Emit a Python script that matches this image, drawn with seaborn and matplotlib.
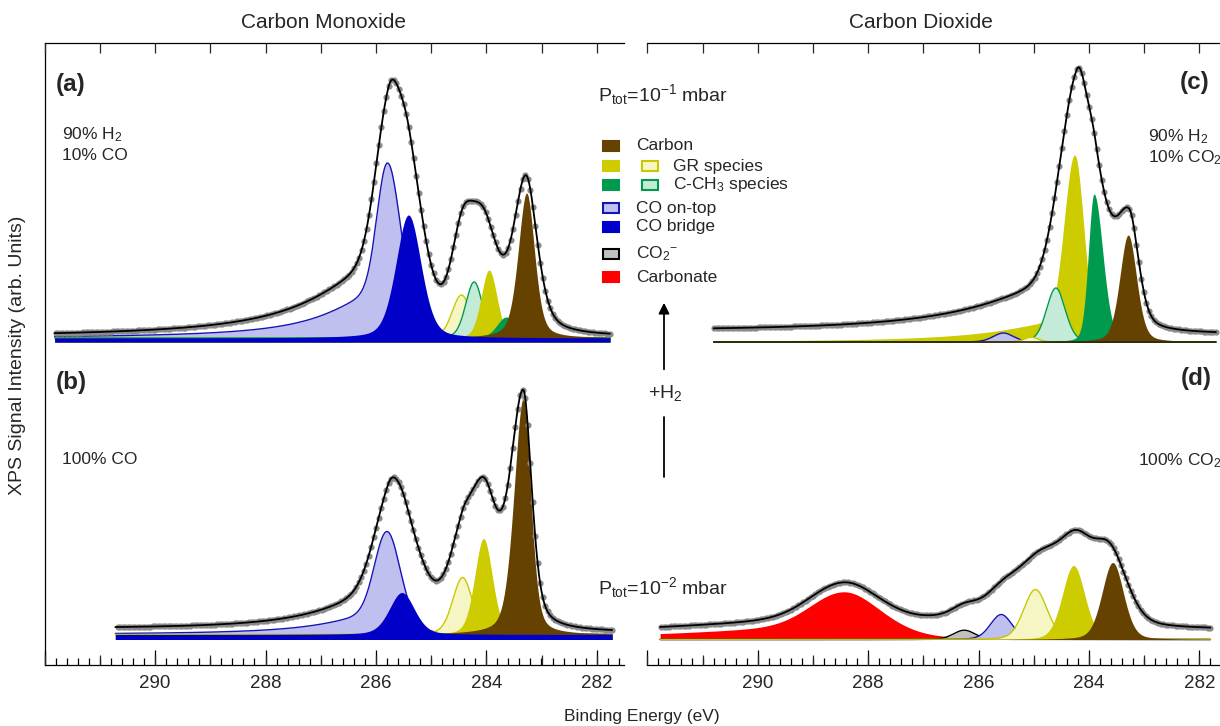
import numpy as np
import matplotlib
matplotlib.use("Agg")
import matplotlib.pyplot as plt
from matplotlib.ticker import MultipleLocator, FuncFormatter, NullLocator
from matplotlib.patches import Rectangle, FancyArrowPatch
from matplotlib.lines import Line2D
import seaborn as sns

# C 1s spectra. Heights are in plot units (0..622 = frame height).
# peak rows: (centre eV, height, hwhm high-BE side, hwhm low-BE side, Lorentz fraction, Lorentz hwhm high-BE side)

# (a) 90% H2 / 10% CO, 1e-1 mbar
a_range = (291.82, 281.76)
a_base = 323
a_band = 4
a_species = ["CO on-top", "GR light", "C-CH3 light", "GR", "C-CH3", "Carbon", "CO bridge"]
a_peaks = [
    (285.79, 175, 0.22, 0.30, 0.28, 1.10),
    (284.45, 43, 0.20, 0.20, 0.20, 0.20),
    (284.22, 56, 0.18, 0.18, 0.20, 0.18),
    (283.95, 68, 0.17, 0.17, 0.20, 0.17),
    (283.64, 21, 0.20, 0.20, 0.20, 0.20),
    (283.27, 145, 0.18, 0.17, 0.40, 0.18),
    (285.41, 123, 0.27, 0.27, 0.30, 0.27),
]
a_fit = [
    (285.78, 202, 0.28, 0.28, 0.35, 1.40),
    (285.40, 143, 0.28, 0.33, 0.35, 0.28),
    (284.44, 82, 0.24, 0.24, 0.30, 0.24),
    (284.05, 100, 0.30, 0.30, 0.30, 0.30),
    (283.28, 154, 0.27, 0.24, 0.50, 0.27),
]
a_bg = (5, 5)  # low-BE end, high-BE end

# (b) 100% CO, 1e-2 mbar
b_range = (290.72, 281.72)
b_base = 25.5
b_band = 5
b_species = ["CO on-top", "GR light", "GR", "Carbon", "CO bridge"]
b_peaks = [
    (285.80, 103, 0.26, 0.30, 0.22, 1.10),
    (284.43, 57, 0.21, 0.21, 0.25, 0.21),
    (284.05, 96, 0.19, 0.19, 0.25, 0.19),
    (283.33, 236, 0.20, 0.16, 0.35, 0.20),
    (285.53, 42, 0.27, 0.27, 0.30, 0.27),
]
b_fit = [
    (285.78, 108, 0.33, 0.28, 0.35, 1.20),
    (285.45, 80, 0.30, 0.40, 0.35, 0.30),
    (284.45, 66, 0.30, 0.22, 0.30, 0.30),
    (284.05, 127, 0.30, 0.28, 0.30, 0.30),
    (283.33, 234, 0.28, 0.18, 0.45, 0.28),
]
b_bg = (7, 10)

# (c) 90% H2 / 10% CO2, 1e-1 mbar
c_range = (290.80, 281.70)
c_base = 323
c_band = 0
c_species = ["GR", "C-CH3 light", "C-CH3", "Carbon", "CO on-top", "GR light", "CO2-"]
c_peaks = [
    (284.26, 187, 0.22, 0.20, 0.12, 1.40),
    (284.60, 54, 0.20, 0.20, 0.20, 0.20),
    (283.91, 148, 0.12, 0.19, 0.20, 0.12),
    (283.29, 107, 0.18, 0.18, 0.30, 0.18),
    (285.55, 9, 0.22, 0.22, 0.20, 0.22),
    (285.05, 5, 0.15, 0.15, 0.20, 0.15),
    (286.20, 0, 0.25, 0.25, 0.20, 0.25),
]
c_fit = [
    (284.22, 234, 0.30, 0.24, 0.22, 1.80),
    (284.62, 30, 0.25, 0.25, 0.30, 0.25),
    (283.88, 116, 0.20, 0.30, 0.30, 0.20),
    (283.27, 110, 0.30, 0.20, 0.40, 0.30),
]
c_bg = (8, 10)

# (d) 100% CO2, 1e-2 mbar
d_range = (291.77, 281.80)
d_base = 25.5
d_band = 0
d_species = ["Carbonate", "CO2-", "CO on-top", "GR light", "GR", "Carbon"]
d_peaks = [
    (288.44, 47.7, 0.70, 0.80, 0.30, 2.80),
    (286.26, 9.3, 0.23, 0.23, 0.20, 0.23),
    (285.59, 25, 0.23, 0.23, 0.20, 0.23),
    (284.97, 50, 0.25, 0.25, 0.20, 0.25),
    (284.28, 74, 0.24, 0.24, 0.20, 0.24),
    (283.57, 77, 0.23, 0.23, 0.25, 0.23),
]
d_fit = [
    (288.44, 47.7, 0.70, 0.80, 0.30, 2.80),
    (286.26, 7, 0.25, 0.25, 0.20, 0.25),
    (285.40, 24, 1.30, 1.40, 0.50, 1.30),
    (285.55, 16, 0.35, 0.35, 0.20, 0.35),
    (284.85, 50, 0.45, 0.45, 0.20, 0.45),
    (284.22, 62, 0.35, 0.35, 0.20, 0.35),
    (283.62, 68, 0.35, 0.36, 0.20, 0.35),
]
d_bg = (9, 6)

# species colours: (fill, outline)
colours = {
    "Carbon": ("#654200", None),
    "GR": ("#cccc00", None),
    "GR light": ("#f6f6c4", "#c8c800"),
    "C-CH3": ("#009a4e", None),
    "C-CH3 light": ("#c4ebd7", "#009a4e"),
    "CO on-top": ("#c0c0f0", "#1515b5"),
    "CO bridge": ("#0000c8", None),
    "CO2-": ("#c0c0c0", "#000000"),
    "Carbonate": ("#ff0000", None),
}

legend_rows = [
    ("Carbon", ["Carbon"]),
    ("GR species", ["GR", "GR light"]),
    ("C-CH$_\\mathregular{3}$ species", ["C-CH3", "C-CH3 light"]),
    ("CO on-top", ["CO on-top"]),
    ("CO bridge", ["CO bridge"]),
    ("CO$_\\mathregular{2}$$^\\mathregular{-}$", ["CO2-"]),
    ("Carbonate", ["Carbonate"]),
]
legend_y = [146, 166, 185, 208, 227, 254, 277]


def lineshape(e, centre, height, hw_hi, hw_lo, lfrac, tail_hi):
    d = e - centre
    hi = d > 0
    hw = np.where(hi, hw_hi, hw_lo)
    gam = np.where(hi, tail_hi, hw_lo)
    return height * ((1 - lfrac) * np.exp(-np.log(2) * (d / hw) ** 2) + lfrac / (1 + (d / gam) ** 2))


def draw_spectrum(ax, e_range, base, band, species, peaks, fit, bg):
    e = np.linspace(e_range[1], e_range[0], 1500)
    for k, (name, p) in enumerate(zip(species, peaks)):
        face, edge = colours[name]
        top = base + band + lineshape(e, *p)
        ax.fill_between(e, base, top, color=face, lw=0, zorder=2 + k)
        if edge:
            ax.plot(e, top, color=edge, lw=1.0, zorder=2 + k)
    slope = (bg[1] - bg[0]) / (e_range[0] - e_range[1])

    def envelope(x):
        y = base + bg[0] + slope * (x - e_range[1])
        for p in fit:
            y = y + lineshape(x, *p)
        return y

    ed = np.arange(e_range[1], e_range[0], 0.045)
    sns.scatterplot(x=ed, y=envelope(ed), ax=ax, color="#8a8a8a", s=20, linewidth=0, zorder=20)
    sns.lineplot(x=e, y=envelope(e), ax=ax, color="black", lw=1.3, zorder=21, estimator=None)


def style_axis(ax):
    ax.set_xlim(292.0, 281.5)
    ax.set_ylim(0, 622)
    ax.set_yticks([])
    ax.set_xlabel("")
    ax.set_ylabel("")
    ax.xaxis.set_major_locator(MultipleLocator(2))
    ax.xaxis.set_minor_locator(MultipleLocator(0.2))
    ax.xaxis.set_major_formatter(FuncFormatter(lambda v, p: "" if v > 291 else f"{v:.0f}"))
    ax.tick_params(axis="x", which="both", direction="in", top=True, bottom=True,
                   width=0.9, color="black", labelsize=13.5, pad=7)
    ax.tick_params(axis="x", which="major", length=10.5)
    ax.tick_params(axis="x", which="minor", length=5)
    # emphasised tick on odd eV
    mid = ax.twiny()
    mid.set_xlim(ax.get_xlim())
    mid.xaxis.set_major_locator(MultipleLocator(1))
    mid.xaxis.set_minor_locator(NullLocator())
    mid.tick_params(axis="x", which="major", direction="in", top=True, bottom=True,
                    length=7.5, width=0.9, labeltop=False, labelbottom=False)
    for s in mid.spines.values():
        s.set_visible(False)
    for s in ax.spines.values():
        s.set_linewidth(0.9)
        s.set_color("black")


sns.set_theme(style="ticks")
plt.rcParams["font.family"] = ["Liberation Sans", "DejaVu Sans"]
plt.rcParams["mathtext.fontset"] = "custom"
plt.rcParams["mathtext.rm"] = "Liberation Sans"
plt.rcParams["mathtext.it"] = "Liberation Sans:italic"
plt.rcParams["mathtext.bf"] = "Liberation Sans:bold"

W, H = 1220, 726
fig = plt.figure(figsize=(W / 100, H / 100), dpi=100)


def fx(px):
    return px / W


def fy(py):
    return 1 - py / H


ax_l = fig.add_axes([fx(44.7), fy(665), 579.6 / W, 622 / H])
ax_r = fig.add_axes([fx(647.4), fy(665), 579.6 / W, 622 / H])

draw_spectrum(ax_l, a_range, a_base, a_band, a_species, a_peaks, a_fit, a_bg)
draw_spectrum(ax_l, b_range, b_base, b_band, b_species, b_peaks, b_fit, b_bg)
draw_spectrum(ax_r, c_range, c_base, c_band, c_species, c_peaks, c_fit, c_bg)
draw_spectrum(ax_r, d_range, d_base, d_band, d_species, d_peaks, d_fit, d_bg)

style_axis(ax_l)
style_axis(ax_r)
ax_l.spines["right"].set_visible(False)
ax_r.spines["right"].set_visible(False)
ax_r.spines["left"].set_visible(False)

# titles and labels
fig.text(fx(324), fy(23), "Carbon Monoxide", ha="center", va="center", fontsize=15)
fig.text(fx(921), fy(23), "Carbon Dioxide", ha="center", va="center", fontsize=15)
fig.text(fx(642), fy(717), "Binding Energy (eV)", ha="center", va="center", fontsize=12.5)
fig.text(fx(18), fy(355), "XPS Signal Intensity (arb. Units)", ha="center", va="center",
         rotation=90, fontsize=14)

for lab, x, y in [("(a)", 56, 84), ("(b)", 56, 383), ("(c)", 1180, 83), ("(d)", 1181, 379)]:
    fig.text(fx(x), fy(y), lab, ha="left", va="center", fontsize=17.5, fontweight="bold")

fig.text(fx(62), fy(135), "90% H$_\\mathregular{2}$", ha="left", va="center", fontsize=12.5)
fig.text(fx(62), fy(155), "10% CO", ha="left", va="center", fontsize=12.5)
fig.text(fx(62), fy(460), "100% CO", ha="left", va="center", fontsize=12.5)
fig.text(fx(1148), fy(137), "90% H$_\\mathregular{2}$", ha="left", va="center", fontsize=12.5)
fig.text(fx(1148), fy(158), "10% CO$_\\mathregular{2}$", ha="left", va="center", fontsize=12.5)
fig.text(fx(1138), fy(461), "100% CO$_\\mathregular{2}$", ha="left", va="center", fontsize=12.5)

fig.text(fx(598), fy(95), "P$_\\mathregular{tot}$=10$^\\mathregular{-1}$ mbar", ha="left", va="center", fontsize=14)
fig.text(fx(598), fy(588), "P$_\\mathregular{tot}$=10$^\\mathregular{-2}$ mbar", ha="left", va="center", fontsize=14)

# +H2 arrow
fig.add_artist(FancyArrowPatch(posA=(fx(664), fy(372)), posB=(fx(664), fy(300)),
                               transform=fig.transFigure, arrowstyle="-|>", mutation_scale=16,
                               lw=1.3, color="black"))
fig.add_artist(Line2D([fx(664), fx(664)], [fy(417), fy(477)], transform=fig.transFigure,
                      color="black", lw=1.3))
fig.text(fx(665), fy(393), "+H$_\\mathregular{2}$", ha="center", va="center", fontsize=14)

# legend
for (label, names), y in zip(legend_rows, legend_y):
    for j, name in enumerate(names):
        face, edge = colours[name]
        x0 = 603 + 39 * j
        fig.add_artist(Rectangle((fx(x0), fy(y + 5)), 16 / W, 10 / H, transform=fig.transFigure,
                                 facecolor=face, edgecolor=edge if edge else face, lw=1.5))
    tx = 636 if len(names) == 1 else 673
    fig.text(fx(tx), fy(y), label, ha="left", va="center", fontsize=12.5)

fig.savefig("out.png", dpi=100)
